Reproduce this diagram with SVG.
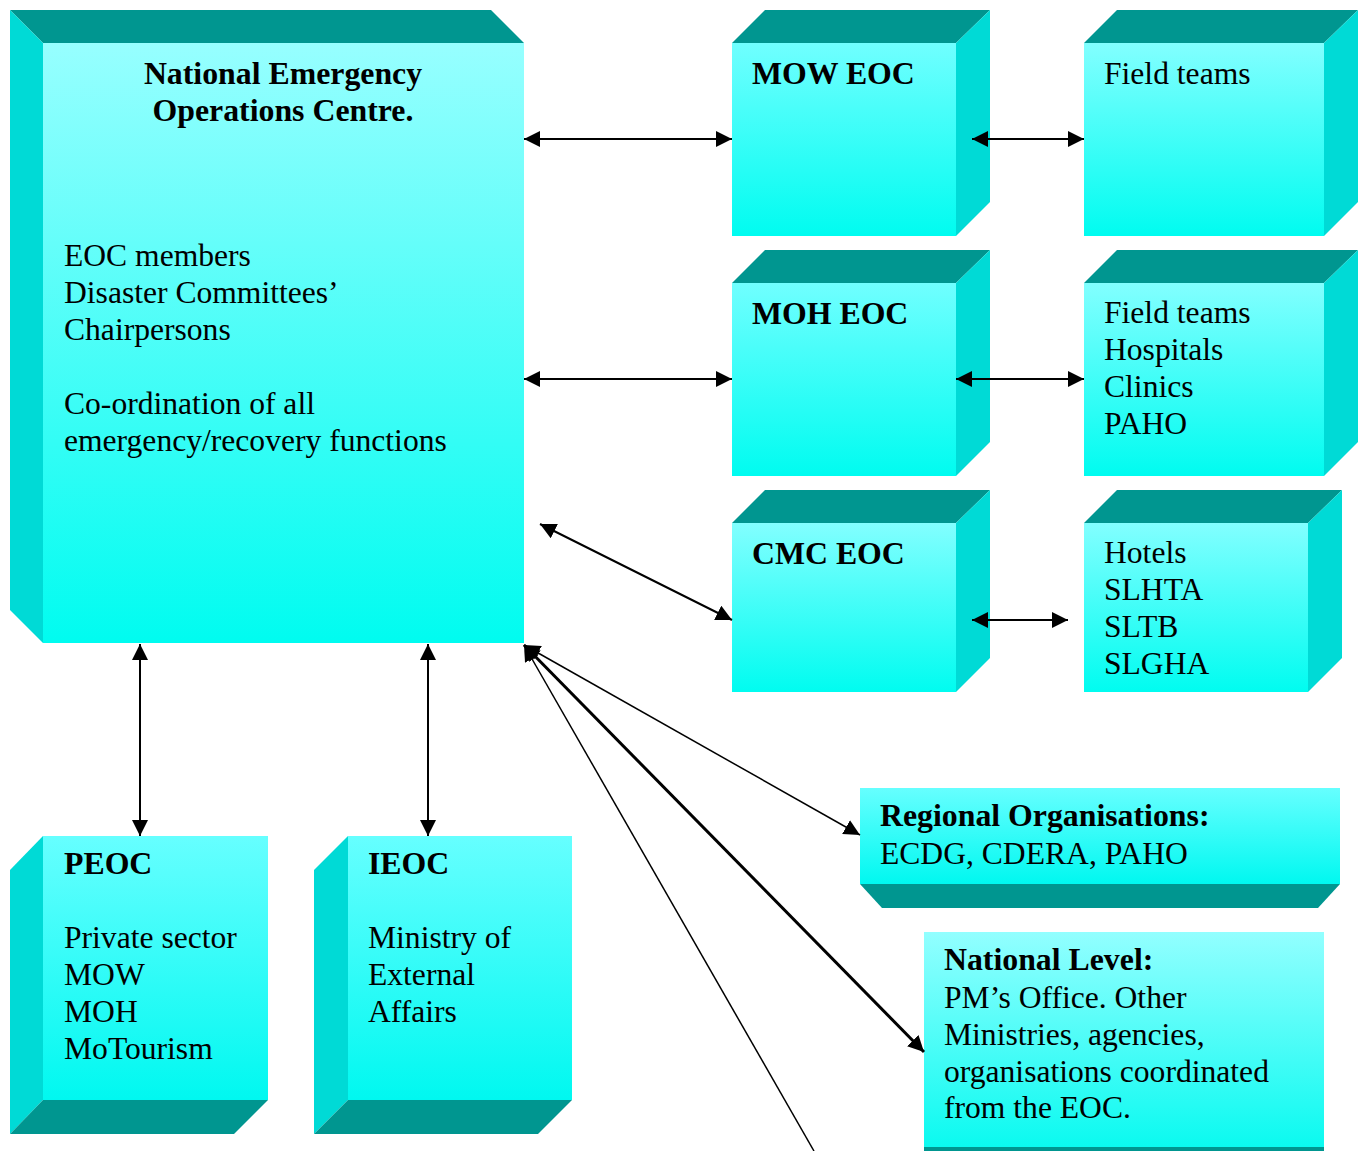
<svg xmlns="http://www.w3.org/2000/svg" width="1359" height="1151" viewBox="0 0 1359 1151">
<style>
.dark{fill:#009690}
.side{fill:#00DAD6}
.t{font-family:"Liberation Serif","Times New Roman",serif;font-size:31.6px;fill:#000}
.b{font-weight:bold;font-size:31.8px}
.c{stroke:#000;stroke-width:2;fill:none}
.thin{stroke:#000;stroke-width:1.5;fill:none}
.thick{stroke:#000;stroke-width:3;fill:none}
</style>
<defs>
<linearGradient id="gMain" x1="0" y1="0" x2="0" y2="1"><stop offset="0" stop-color="#97FFFF"/><stop offset="1" stop-color="#00FCF0"/></linearGradient>
<linearGradient id="gMow" x1="0" y1="0" x2="0" y2="1"><stop offset="0" stop-color="#70FFFF"/><stop offset="1" stop-color="#00FCF0"/></linearGradient>
<linearGradient id="gField" x1="0" y1="0" x2="0" y2="1"><stop offset="0" stop-color="#82FFFF"/><stop offset="1" stop-color="#00FCF0"/></linearGradient>
<linearGradient id="gLow" x1="0" y1="0" x2="0" y2="1"><stop offset="0" stop-color="#66FFFF"/><stop offset="1" stop-color="#00F8F0"/></linearGradient>
<linearGradient id="gNat" x1="0" y1="0" x2="0" y2="1"><stop offset="0" stop-color="#92FFFF"/><stop offset="1" stop-color="#0AFAF0"/></linearGradient>
<marker id="ah" viewBox="0 0 16 16" refX="16" refY="8" markerWidth="16" markerHeight="16" markerUnits="userSpaceOnUse" orient="auto-start-reverse"><path d="M0,0 L16,8 L0,16 z" fill="#000"/></marker>
</defs>

<g id="neoc">
<polygon class="dark" points="10,10 491,10 524,43 43,43"/>
<polygon class="side" points="10,10 43,43 43,643 10,610"/>
<rect x="43" y="43" width="481" height="600" fill="url(#gMain)"/>
<text class="t b" x="283" y="84" text-anchor="middle">National Emergency</text>
<text class="t b" x="283" y="121" text-anchor="middle">Operations Centre.</text>
<text class="t" x="64" y="266">EOC members</text>
<text class="t" x="64" y="303">Disaster Committees’</text>
<text class="t" x="64" y="340">Chairpersons</text>
<text class="t" x="64" y="414">Co-ordination of all</text>
<text class="t" x="64" y="451">emergency/recovery functions</text>
</g>

<g id="mow">
<polygon class="dark" points="732,43 765,10 990,10 956,43"/>
<polygon class="side" points="956,43 990,10 990,202 956,236"/>
<rect x="732" y="43" width="224" height="193" fill="url(#gMow)"/>
<text class="t b" x="752" y="84">MOW EOC</text>
</g>

<g id="field1">
<polygon class="dark" points="1084,43 1117,10 1358,10 1324,43"/>
<polygon class="side" points="1324,43 1358,10 1358,202 1324,236"/>
<rect x="1084" y="43" width="240" height="193" fill="url(#gField)"/>
<text class="t" x="1104" y="84">Field teams</text>
</g>

<g id="moh">
<polygon class="dark" points="732,283 765,250 990,250 956,283"/>
<polygon class="side" points="956,283 990,250 990,442 956,476"/>
<rect x="732" y="283" width="224" height="193" fill="url(#gMow)"/>
<text class="t b" x="752" y="324">MOH EOC</text>
</g>

<g id="field2">
<polygon class="dark" points="1084,283 1117,250 1358,250 1324,283"/>
<polygon class="side" points="1324,283 1358,250 1358,442 1324,476"/>
<rect x="1084" y="283" width="240" height="193" fill="url(#gField)"/>
<text class="t" x="1104" y="323">Field teams</text>
<text class="t" x="1104" y="360">Hospitals</text>
<text class="t" x="1104" y="397">Clinics</text>
<text class="t" x="1104" y="434">PAHO</text>
</g>

<g id="cmc">
<polygon class="dark" points="732,523 765,490 990,490 956,523"/>
<polygon class="side" points="956,523 990,490 990,658 956,692"/>
<rect x="732" y="523" width="224" height="169" fill="url(#gField)"/>
<text class="t b" x="752" y="564">CMC EOC</text>
</g>

<g id="hotels">
<polygon class="dark" points="1084,523 1117,490 1342,490 1308,523"/>
<polygon class="side" points="1308,523 1342,490 1342,658 1308,692"/>
<rect x="1084" y="523" width="224" height="169" fill="url(#gField)"/>
<text class="t" x="1104" y="563">Hotels</text>
<text class="t" x="1104" y="600">SLHTA</text>
<text class="t" x="1104" y="637">SLTB</text>
<text class="t" x="1104" y="674">SLGHA</text>
</g>

<g id="peoc">
<polygon class="side" points="10,870 43,836 43,1100 10,1134"/>
<polygon class="dark" points="43,1100 268,1100 234,1134 10,1134"/>
<rect x="43" y="836" width="225" height="264" fill="url(#gLow)"/>
<text class="t b" x="64" y="874">PEOC</text>
<text class="t" x="64" y="948">Private sector</text>
<text class="t" x="64" y="985">MOW</text>
<text class="t" x="64" y="1022">MOH</text>
<text class="t" x="64" y="1059">MoTourism</text>
</g>

<g id="ieoc">
<polygon class="side" points="314,870 348,836 348,1100 314,1134"/>
<polygon class="dark" points="348,1100 572,1100 538,1134 314,1134"/>
<rect x="348" y="836" width="224" height="264" fill="url(#gLow)"/>
<text class="t b" x="368" y="874">IEOC</text>
<text class="t" x="368" y="948">Ministry of</text>
<text class="t" x="368" y="985">External</text>
<text class="t" x="368" y="1022">Affairs</text>
</g>

<g id="regional">
<polygon class="dark" points="860,884 1340,884 1318,908 882,908"/>
<rect x="860" y="788" width="480" height="96" fill="url(#gLow)"/>
<text class="t b" x="880" y="826">Regional Organisations:</text>
<text class="t" x="880" y="864">ECDG, CDERA, PAHO</text>
</g>

<g id="national">
<rect x="924" y="932" width="400" height="216" fill="url(#gNat)"/>
<rect class="dark" x="924" y="1147" width="400" height="4"/>
<text class="t b" x="944" y="970">National Level:</text>
<text class="t" x="944" y="1008">PM’s Office. Other</text>
<text class="t" x="944" y="1045">Ministries, agencies,</text>
<text class="t" x="944" y="1082">organisations coordinated</text>
<text class="t" x="944" y="1118">from the EOC.</text>
</g>

<g id="connectors">
<path class="c" d="M524,139 L732,139" marker-start="url(#ah)" marker-end="url(#ah)"/>
<path class="c" d="M972,139 L1084,139" marker-start="url(#ah)" marker-end="url(#ah)"/>
<path class="c" d="M524,379 L732,379" marker-start="url(#ah)" marker-end="url(#ah)"/>
<path class="c" d="M956,379 L1084,379" marker-start="url(#ah)" marker-end="url(#ah)"/>
<path class="c" d="M540,524 L732,620" marker-start="url(#ah)" marker-end="url(#ah)"/>
<path class="c" d="M972,620 L1068,620" marker-start="url(#ah)" marker-end="url(#ah)"/>
<path class="c" d="M140,644 L140,836" marker-start="url(#ah)" marker-end="url(#ah)"/>
<path class="c" d="M428,644 L428,836" marker-start="url(#ah)" marker-end="url(#ah)"/>
<path class="thin" d="M524,645 L860,835" marker-start="url(#ah)" marker-end="url(#ah)"/>
<path class="thick" d="M524,645 L924,1052" marker-start="url(#ah)" marker-end="url(#ah)"/>
<path class="thin" d="M524,645 L814,1151" marker-start="url(#ah)"/>
</g>
</svg>
